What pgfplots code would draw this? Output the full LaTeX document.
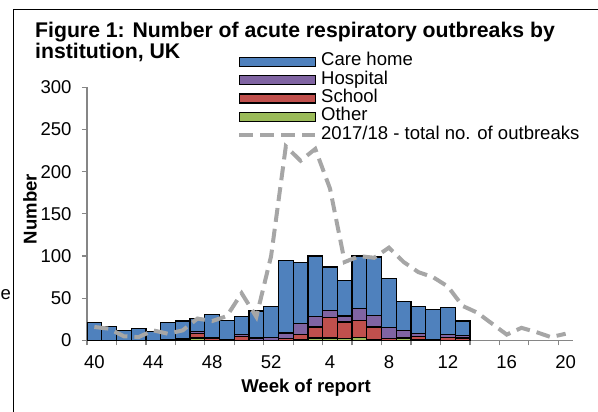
\documentclass[border=0pt]{standalone}
\usepackage{pgfplots}
\usepackage{pgfplotstable}
\pgfplotsset{compat=1.18}
\usepackage{fontspec}
\setmainfont{Liberation Sans}
\definecolor{care}{HTML}{4F81BD}
\definecolor{hosp}{HTML}{8064A2}
\definecolor{school}{HTML}{C0504D}
\definecolor{other}{HTML}{9BBB59}
\definecolor{prev}{HTML}{A6A6A6}
\definecolor{axgray}{HTML}{868686}
\pgfplotsset{
  barleg/.style={legend image code/.code={\draw[##1] (0bp,-4.5bp) rectangle (76bp,4.5bp);}},
  lineleg/.style={legend image code/.code={\draw[##1] (0bp,0bp) -- (76bp,0bp);}},
}

% weeks 40..52 -> idx 0..12, weeks 1..13 -> idx 13..25
\pgfplotstableread{
idx care hosp school other
0 21 0 0 0
1 17 0 0 0
2 12 0 0 0
3 14 0 0 0
4 11 0 0 0
5 20 1 0 0
6 21 1 1 0
7 15 3 5 3
8 28 0 3 0
9 23 0 1 0
10 21 2 5 0
11 32 3 0 0
12 36 4 0 0
13 86 7 2 0
14 72 13 6 1
15 72 12 13 3
16 51 9 24 3
17 42 7 20 2
18 62 14 20 4
19 69 14 15 1
20 58 13 2 0
21 34 9 1 2
22 32 3 4 1
23 36 1 0 0
24 32 3 4 0
25 17 3 3 0
}\bars

% 2017/18 total, weeks 40..52 and 1..20
\pgfplotstableread{
idx prev
0 16
1 14
2 5
3 4
4 12
5 8
6 12
7 26
8 23
9 29
10 56
11 28
12 100
13 230
14 213
15 227
16 180
17 93
18 100
19 98
20 110
21 93
22 81
23 75
24 64
25 41
26 33
27 20
28 7
29 15
30 10
31 4
32 8
}\prevseason

\begin{document}
\begin{tikzpicture}
\useasboundingbox (0,0) rectangle (598bp,412bp);
\begin{scope}
\clip (0,0) rectangle (598bp,412bp);
\draw[line width=1.3bp] (13.5bp,-10bp) -- (13.5bp,402.5bp) -- (610bp,402.5bp);
\end{scope}
\node[anchor=base west, font=\fontsize{18.6}{20}\selectfont, inner sep=0] at (0.5bp,112bp) {e};
\node[anchor=base west, align=left, inner sep=0, font=\fontsize{21.3}{22}\selectfont\bfseries] at (35bp,353bp) {Figure 1: Number of acute respiratory outbreaks by\\institution, UK};
\begin{axis}[
  at={(87bp,71.5bp)}, anchor=south west,
  scale only axis, width=486bp, height=253.2bp,
  xmin=-0.5, xmax=32.5, ymin=0, ymax=300,
  axis x line*=bottom, axis y line*=left, tick pos=left,
  axis line style={axgray, line width=1.2bp},
  tick style={axgray, line width=1.2bp},
  tick align=outside, major tick length=5bp,
  xtick={-0.5,1.5,...,31.5}, xticklabels={},
  extra x ticks={0,4,...,32},
  extra x tick labels={40,44,48,52,4,8,12,16,20},
  extra x tick style={major tick length=0pt, tick style={draw=none},
    xticklabel style={yshift=-12bp}},
  ytick={0,50,...,300},
  yticklabel style={xshift=-7bp},
  /pgf/number format/assume math mode=true,
  ticklabel style={font=\fontsize{18.6}{20}\selectfont, text=black},
  xlabel={Week of report},
  ylabel={Number},
  label style={font=\fontsize{18.6}{20}\selectfont\bfseries},
  xlabel style={at={(axis description cs:0.4506,-0.186)}, anchor=center},
  ylabel style={at={(axis description cs:-0.1173,0.519)}, anchor=center},
  ybar stacked, bar width=1,
  legend style={at={(0.3086,1.133)}, anchor=north west, draw=none, fill=none,
    inner sep=0pt, row sep=2.3bp, column sep=4bp,
    nodes={inner sep=0pt, text height=12bp, text depth=4bp},
    font=\fontsize{18.6}{20}\selectfont},
  legend cell align=left,
]
\addlegendimage{barleg, fill=care, draw=black, line width=1.2bp}
\addlegendentry{Care home}
\addlegendimage{barleg, fill=hosp, draw=black, line width=1.2bp}
\addlegendentry{Hospital}
\addlegendimage{barleg, fill=school, draw=black, line width=1.2bp}
\addlegendentry{School}
\addlegendimage{barleg, fill=other, draw=black, line width=1.2bp}
\addlegendentry{Other}
\addlegendimage{lineleg, prev, line width=4bp, dash pattern=on 14bp off 7bp}
\addlegendentry{2017/18 - total no. of outbreaks}

\addplot[fill=other, draw=black, line width=1.2bp, forget plot] table[x=idx, y=other] {\bars};
\addplot[fill=school, draw=black, line width=1.2bp, forget plot] table[x=idx, y=school] {\bars};
\addplot[fill=hosp, draw=black, line width=1.2bp, forget plot] table[x=idx, y=hosp] {\bars};
\addplot[fill=care, draw=black, line width=1.2bp, forget plot] table[x=idx, y=care] {\bars};
\end{axis}
\begin{axis}[
  at={(87bp,71.5bp)}, anchor=south west,
  scale only axis, width=486bp, height=253.2bp,
  xmin=-0.5, xmax=32.5, ymin=0, ymax=300,
  hide axis,
]
\addplot[prev, line width=4bp, dash pattern=on 14bp off 7bp] table[x=idx, y=prev] {\prevseason};
\end{axis}
\end{tikzpicture}
\end{document}
